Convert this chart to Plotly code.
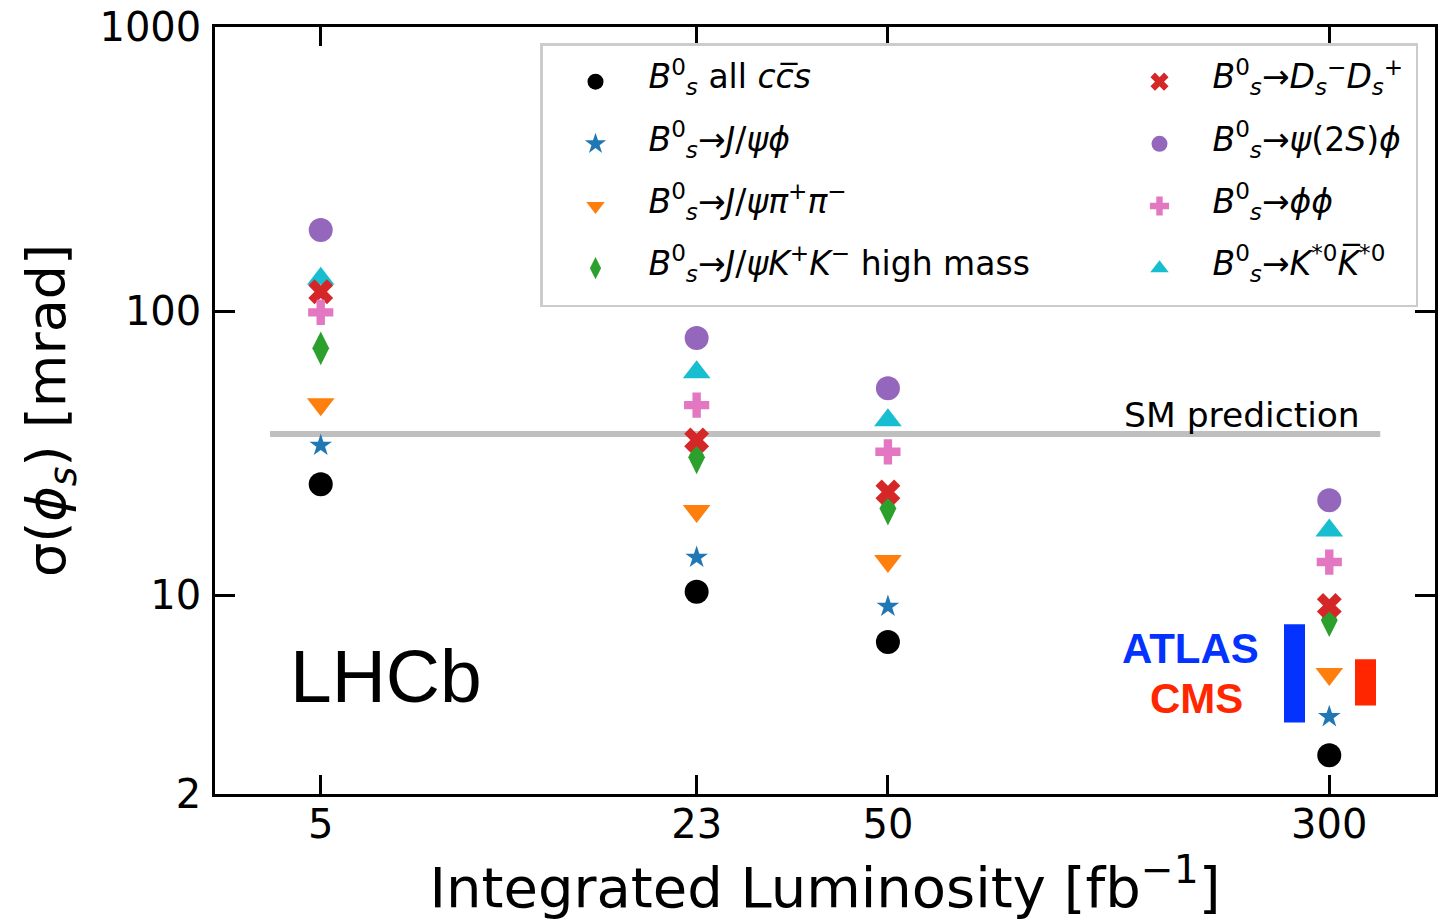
import plotly.graph_objects as go
import numpy as np

# ---------------- data ----------------
lumi = [5, 23, 50, 300]

ccs_all = [24.6, 10.3, 6.85, 2.74]
jpsi_phi = [33.7, 13.6, 9.15, 3.74]
jpsi_pipi = [47.0, 19.8, 13.2, 5.29]
jpsi_kk_high = [74.0, 30.6, 20.2, 8.17]
ds_ds = [117.0, 35.2, 23.1, 9.22]
psi2s_phi = [193.0, 80.4, 53.6, 21.6]
phi_phi = [99.0, 46.7, 32.0, 13.1]
kst_kst = [130.0, 61.0, 41.3, 16.9]

sm_x = [4.07, 369.0]
sm_value = [37.0, 37.0]

atlas_x = [260.5, 260.5]
atlas_range = [3.57, 7.91]
cms_x = [347.5, 347.5]
cms_range = [4.10, 5.96]

x_ticks = [5, 23, 50, 300]
y_ticks = [2, 10, 100, 1000]

FONT = "DejaVu Sans"
LS = 33  # visible legend text size

def lab(s):
    return '<span style="font-size:%dpx;baseline-shift:11px">%s</span>' % (LS, s)

B = "<i>B</i><sup>0</sup><sub><i>s</i></sub>"

# name, values, color, symbol, size, legendrank, left column?
series = [
    (lab(B + " all <i>cc\u0305s</i>"), ccs_all, "black", "circle", 24, 1, True),
    (lab(B + "→<i>J</i>/<i>ψϕ</i>"), jpsi_phi, "#1f77b4", "star", 17, 3, True),
    (lab(B + "→<i>J</i>/<i>ψπ</i><sup>+</sup><i>π</i><sup>−</sup>"), jpsi_pipi, "#ff7f0e", "triangle-down", 24, 5, True),
    (lab(B + "→<i>J</i>/<i>ψK</i><sup>+</sup><i>K</i><sup>−</sup> high mass"), jpsi_kk_high, "#2ca02c", "diamond-tall", 24, 7, True),
    (lab(B + "→<i>K</i><sup>*0</sup><i>K\u0305</i><sup>*0</sup>"), kst_kst, "#17becf", "triangle-up", 24, 8, False),
    (lab(B + "→<i>D</i><sub><i>s</i></sub><sup>−</sup><i>D</i><sub><i>s</i></sub><sup>+</sup>"), ds_ds, "#d62728", "x", 22, 2, False),
    (lab(B + "→<i>ϕϕ</i>"), phi_phi, "#e377c2", "cross", 21, 6, False),
    (lab(B + "→<i>ψ</i>(2<i>S</i>)<i>ϕ</i>"), psi2s_phi, "#9467bd", "circle", 24, 4, False),
]

fig = go.Figure()

# SM prediction line
fig.add_trace(go.Scatter(x=sm_x, y=sm_value, mode="lines",
                         line=dict(color="#bfbfbf", width=6),
                         showlegend=False, hoverinfo="skip"))

# ATLAS / CMS bars
fig.add_trace(go.Scatter(x=atlas_x, y=atlas_range, mode="lines",
                         line=dict(color="#0433ff", width=21),
                         showlegend=False, hoverinfo="skip"))
fig.add_trace(go.Scatter(x=cms_x, y=cms_range, mode="lines",
                         line=dict(color="#ff2600", width=21),
                         showlegend=False, hoverinfo="skip"))

for name, vals, color, sym, size, rank, left in series:
    kw = dict(legendwidth=453) if left else dict(legendwidth=198)
    fig.add_trace(go.Scatter(
        x=lumi, y=vals, mode="markers", name=name,
        marker=dict(color=color, symbol=sym, size=size, line=dict(width=0)),
        legendrank=rank, **kw))

axis_common = dict(
    type="log", ticks="inside", tickwidth=2.5, tickcolor="black",
    showline=True, linecolor="black", linewidth=2.5, mirror="ticks",
    showgrid=False, zeroline=False, ticklabeloverflow="allow",
    tickfont=dict(family=FONT, size=40, color="black"),
)

fig.update_xaxes(
    range=[np.log10(3.255), np.log10(460.8)],
    tickvals=x_ticks, ticktext=[str(v) for v in x_ticks], ticklen=19,
    ticklabelstandoff=-7,
    title=dict(text="Integrated Luminosity [fb<sup>−1</sup>]",
               font=dict(family=FONT, size=56, color="black"), standoff=43),
    **axis_common)
fig.update_yaxes(
    range=[np.log10(2), 3],
    tickvals=y_ticks, ticktext=[str(v) for v in y_ticks], ticklen=20,
    ticklabelstandoff=3,
    title=dict(text="σ(<i>ϕ</i><sub><i>s</i></sub>) [mrad]",
               font=dict(family=FONT, size=54, color="black"), standoff=17),
    **axis_common)

fig.add_annotation(x=0.7431, y=0.4935, xref="paper", yref="paper",
                   text="SM prediction", showarrow=False, xanchor="left", yanchor="middle",
                   font=dict(family=FONT, size=34.5, color="black"))
fig.add_annotation(x=0.0598, y=0.154, xref="paper", yref="paper",
                   text="LHCb", showarrow=False, xanchor="left", yanchor="middle",
                   font=dict(family="Liberation Sans", size=75, color="black"))
fig.add_annotation(x=0.8576, y=0.190, xref="paper", yref="paper",
                   text="<b>ATLAS</b>", showarrow=False, xanchor="right", yanchor="middle",
                   font=dict(family="Liberation Sans", size=42, color="#0433ff"))
fig.add_annotation(x=0.8445, y=0.1239, xref="paper", yref="paper",
                   text="<b>CMS</b>", showarrow=False, xanchor="right", yanchor="middle",
                   font=dict(family="Liberation Sans", size=42, color="#ff2600"))

# page body has an 8px default margin: size/margins compensate for it
fig.update_layout(
    width=1441, height=912,
    margin=dict(l=207, r=14, t=19, b=126, autoexpand=False),
    paper_bgcolor="white", plot_bgcolor="white",
    font=dict(family=FONT, color="black"),
    legend=dict(x=0.2664, y=0.979, xanchor="left", yanchor="top",
                orientation="h", itemwidth=96, traceorder="normal",
                bgcolor="rgba(255,255,255,0.8)", bordercolor="#cccccc", borderwidth=2.5,
                font=dict(family=FONT, size=45.5, color="black"),
                itemclick=False, itemdoubleclick=False),
    showlegend=True,
)

fig.write_html("out.html")
